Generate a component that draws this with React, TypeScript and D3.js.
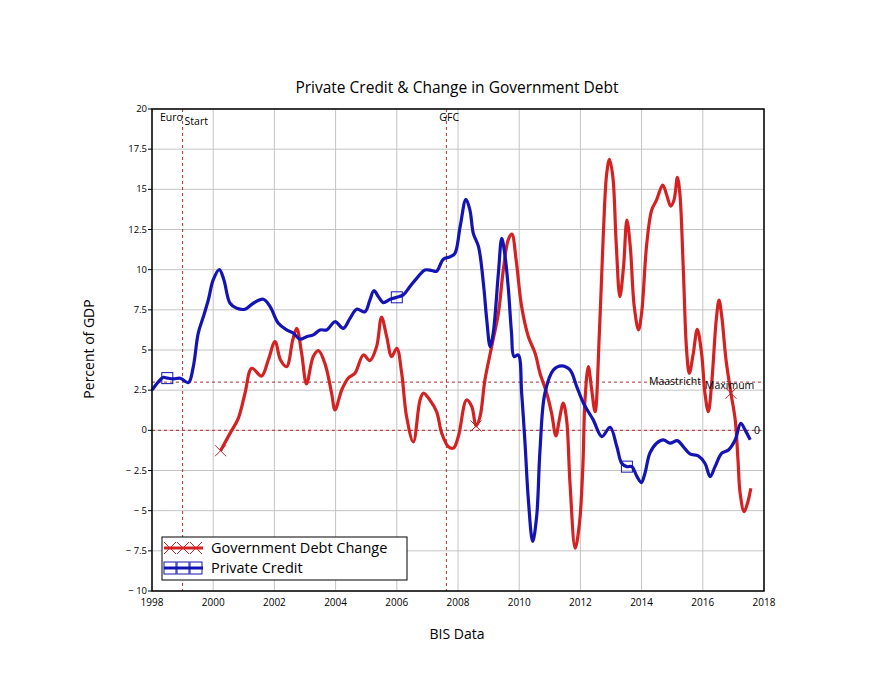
import React, { useEffect, useRef } from "react";
import * as d3 from "d3";

// Private credit (% of GDP), by year
const creditYears = [
  1998.0, 1998.2, 1998.37, 1998.5, 1998.7, 1998.92, 1999.19, 1999.35, 1999.51, 1999.68,
  1999.84, 2000.0, 2000.2, 2000.35, 2000.55, 2000.77, 2001.04, 2001.31, 2001.64, 2001.86,
  2002.13, 2002.4, 2002.62, 2002.84, 2003.05, 2003.27, 2003.49, 2003.71, 2003.98, 2004.25,
  2004.47, 2004.69, 2004.96, 2005.12, 2005.25, 2005.4, 2005.56, 2005.78, 2006.0, 2006.21,
  2006.43, 2006.65, 2006.92, 2007.14, 2007.3, 2007.52, 2007.74, 2007.9, 2008.07, 2008.26,
  2008.39, 2008.5, 2008.67, 2008.83, 2008.94, 2009.05, 2009.15, 2009.32, 2009.43, 2009.54,
  2009.64, 2009.75, 2009.83, 2009.97, 2010.08, 2010.19, 2010.3, 2010.44, 2010.57, 2010.68,
  2010.84, 2011.12, 2011.39, 2011.66, 2011.88, 2012.1, 2012.42, 2012.7, 2012.97, 2013.19,
  2013.35, 2013.52, 2013.68, 2013.85, 2013.99, 2014.11, 2014.27, 2014.49, 2014.71, 2014.93,
  2015.17, 2015.36, 2015.58, 2015.85, 2016.07, 2016.24, 2016.4, 2016.62, 2016.84, 2017.06,
  2017.24, 2017.38, 2017.55,
];
const creditValues = [
  2.5, 3.0, 3.3, 3.25, 3.2, 3.24, 2.97, 3.97, 6.04, 7.08,
  8.11, 9.36, 10.0, 9.36, 7.91, 7.6, 7.54, 7.91, 8.16, 7.7,
  6.66, 6.25, 6.04, 5.67, 5.83, 5.94, 6.25, 6.25, 6.76, 6.35,
  6.97, 7.54, 7.38, 8.11, 8.69, 8.32, 7.95, 8.16, 8.28, 8.43,
  8.95, 9.46, 9.98, 9.95, 9.9, 10.65, 10.8, 11.02, 12.68, 14.38,
  13.71, 12.26, 11.43, 9.15, 6.87, 5.21, 6.04, 9.78, 11.95, 10.81,
  8.94, 6.04, 4.59, 4.69, 2.31, -0.8, -4.33, -6.92, -5.37, -1.22,
  2.31, 3.76, 4.01, 3.76, 2.72, 1.69, 0.65, -0.39, 0.19, -1.01,
  -2.05, -2.26, -2.26, -2.88, -3.25, -2.67, -1.42, -0.8, -0.59, -0.8,
  -0.64, -1.01, -1.47, -1.59, -2.05, -2.88, -2.26, -1.42, -1.22, -0.59,
  0.44, 0.03, -0.59,
];

// Change in government debt (% of GDP), by year
const debtYears = [
  2000.24, 2000.55, 2000.82, 2001.04, 2001.26, 2001.58, 2001.8, 2002.02, 2002.2, 2002.4,
  2002.6, 2002.73, 2002.89, 2003.05, 2003.27, 2003.44, 2003.65, 2003.87, 2003.98, 2004.2,
  2004.41, 2004.63, 2004.91, 2005.12, 2005.34, 2005.5, 2005.67, 2005.83, 2006.0, 2006.16,
  2006.32, 2006.54, 2006.76, 2006.87, 2007.08, 2007.3, 2007.47, 2007.68, 2007.85, 2008.01,
  2008.28, 2008.45, 2008.59, 2008.72, 2008.88, 2009.1, 2009.32, 2009.48, 2009.64, 2009.76,
  2009.9, 2010.08, 2010.3, 2010.52, 2010.68, 2010.9, 2011.06, 2011.2, 2011.31, 2011.44,
  2011.55, 2011.66, 2011.83, 2011.97, 2012.08, 2012.15, 2012.26, 2012.37, 2012.48, 2012.62,
  2012.75, 2012.86, 2012.95, 2013.06, 2013.17, 2013.29, 2013.41, 2013.52, 2013.63, 2013.76,
  2013.9, 2014.0, 2014.17, 2014.33, 2014.49, 2014.69, 2014.82, 2014.95, 2015.06, 2015.17,
  2015.25, 2015.36, 2015.47, 2015.56, 2015.69, 2015.82, 2015.96, 2016.07, 2016.18, 2016.29,
  2016.44, 2016.53, 2016.62, 2016.76, 2016.92, 2017.06, 2017.15, 2017.22, 2017.35, 2017.46,
  2017.57,
];
const debtValues = [
  -1.27, -0.19, 0.75, 2.31, 3.86, 3.38, 4.38, 5.52, 4.38, 3.96,
  5.63, 6.35, 4.8, 2.89, 4.59, 4.96, 4.17, 2.31, 1.27, 2.51,
  3.24, 3.55, 4.69, 4.34, 5.21, 7.04, 5.83, 4.59, 5.11, 3.55,
  0.85, -0.72, 1.89, 2.31, 1.89, 1.16, -0.19, -1.01, -1.11, -0.39,
  1.89, 1.48, 0.27, 0.85, 3.14, 5.21, 7.29, 9.98, 11.85, 12.22,
  10.6, 7.7, 5.83, 4.8, 3.55, 2.31, 1.06, -0.35, 0.65, 1.69,
  0.65, -3.29, -7.34, -5.78, -2.26, 1.89, 3.96, 2.51, 1.16, 6.04,
  12.26, 15.99, 16.87, 15.79, 11.64, 8.32, 10.19, 13.09, 11.43, 7.7,
  6.25, 7.29, 11.64, 13.71, 14.34, 15.27, 14.65, 13.96, 14.34, 15.75,
  14.75, 10.19, 5.0, 3.55, 4.8, 6.29, 4.8, 2.31, 1.16, 2.93,
  6.87, 8.11, 7.08, 4.38, 2.31, 0.65, -1.84, -3.91, -5.06, -4.54,
  -3.6,
];

const creditMarkerYears = [1998.5, 2006.0, 2013.52];
const debtMarkerYears = [2000.24, 2008.59, 2016.92];

const yTicks = [-10, -7.5, -5, -2.5, 0, 2.5, 5, 7.5, 10, 12.5, 15, 17.5, 20];
const xTicks = [1998, 2000, 2002, 2004, 2006, 2008, 2010, 2012, 2014, 2016, 2018];

// reference lines
const eventYears = [1999.0, 2007.62];
const levelLines = [3, 0];

const RED = "#d42222";
const BLUE = "#1414b4";
const REFLINE = "#a83232";
const FONT = "'Open Sans', 'DejaVu Sans', sans-serif";

function App() {
  const ref = useRef<SVGSVGElement>(null);

  useEffect(() => {
    const svg = d3.select(ref.current);
    svg.selectAll("*").remove();

    const x = d3.scaleLinear().domain([1998, 2018]).range([152, 764]);
    const y = d3.scaleLinear().domain([-10, 20]).range([591, 109]);

    svg.append("rect").attr("width", 884).attr("height", 688).attr("fill", "#fff");

    // grid
    const grid = svg.append("g").attr("stroke", "#c4c4c4").attr("stroke-width", 1);
    grid
      .selectAll("line.h")
      .data(yTicks)
      .join("line")
      .attr("x1", x(1998))
      .attr("x2", x(2018))
      .attr("y1", (d) => y(d))
      .attr("y2", (d) => y(d));
    grid
      .selectAll("line.v")
      .data(xTicks)
      .join("line")
      .attr("class", "v")
      .attr("y1", y(-10))
      .attr("y2", y(20))
      .attr("x1", (d) => x(d))
      .attr("x2", (d) => x(d));

    // dashed reference lines
    const refs = svg
      .append("g")
      .attr("stroke", REFLINE)
      .attr("stroke-width", 1)
      .attr("stroke-dasharray", "3,3");
    refs
      .selectAll("line.e")
      .data(eventYears)
      .join("line")
      .attr("x1", (d) => x(d))
      .attr("x2", (d) => x(d))
      .attr("y1", y(20))
      .attr("y2", y(-10));
    refs
      .selectAll("line.l")
      .data(levelLines)
      .join("line")
      .attr("class", "l")
      .attr("x1", x(1998))
      .attr("x2", x(2018))
      .attr("y1", (d) => y(d))
      .attr("y2", (d) => y(d));

    // series
    const line = d3
      .line<[number, number]>()
      .x((d) => x(d[0]))
      .y((d) => y(d[1]))
      .curve(d3.curveCatmullRom.alpha(0.5));

    const debt: [number, number][] = debtYears.map((t, i) => [t, debtValues[i]]);
    const credit: [number, number][] = creditYears.map((t, i) => [t, creditValues[i]]);

    svg
      .append("path")
      .attr("d", line(debt))
      .attr("fill", "none")
      .attr("stroke", RED)
      .attr("stroke-width", 3.2)
      .attr("stroke-linejoin", "round");
    svg
      .append("path")
      .attr("d", line(credit))
      .attr("fill", "none")
      .attr("stroke", BLUE)
      .attr("stroke-width", 3.2)
      .attr("stroke-linejoin", "round");

    const nearest = (data: [number, number][], t: number) =>
      data.reduce((a, b) => (Math.abs(b[0] - t) < Math.abs(a[0] - t) ? b : a));

    const cross = (g: any, cx: number, cy: number, s: number, color: string) => {
      g.append("path")
        .attr("d", `M${cx - s},${cy - s}L${cx + s},${cy + s}M${cx - s},${cy + s}L${cx + s},${cy - s}`)
        .attr("stroke", color)
        .attr("stroke-width", 1)
        .attr("fill", "none");
    };
    const square = (g: any, cx: number, cy: number, s: number, color: string) => {
      g.append("rect")
        .attr("x", cx - s)
        .attr("y", cy - s)
        .attr("width", 2 * s)
        .attr("height", 2 * s)
        .attr("stroke", color)
        .attr("stroke-width", 1)
        .attr("fill", "none");
    };

    const marks = svg.append("g");
    debtMarkerYears.forEach((t) => {
      const p = nearest(debt, t);
      cross(marks, x(p[0]), y(p[1]), 5.5, "#b02828");
    });
    creditMarkerYears.forEach((t) => {
      const p = nearest(credit, t);
      square(marks, x(p[0]), y(p[1]), 5.5, BLUE);
    });

    // frame
    svg
      .append("rect")
      .attr("x", x(1998))
      .attr("y", y(20))
      .attr("width", x(2018) - x(1998))
      .attr("height", y(-10) - y(20))
      .attr("fill", "none")
      .attr("stroke", "#000")
      .attr("stroke-width", 1.5);

    // y axis ticks and labels
    const yAxis = svg.append("g");
    yAxis
      .selectAll("line")
      .data(yTicks)
      .join("line")
      .attr("x1", x(1998) - 4)
      .attr("x2", x(1998))
      .attr("y1", (d) => y(d))
      .attr("y2", (d) => y(d))
      .attr("stroke", "#000");
    yAxis
      .selectAll("text")
      .data(yTicks)
      .join("text")
      .attr("x", x(1998) - 5)
      .attr("y", (d) => y(d) + 3)
      .attr("text-anchor", "end")
      .attr("font-family", FONT)
      .attr("font-size", 9.5)
      .text((d) => (d < 0 ? `\u2212 ${Math.abs(d)}` : `${d}`));

    // x axis labels
    svg
      .append("g")
      .selectAll("text")
      .data(xTicks)
      .join("text")
      .attr("x", (d) => x(d))
      .attr("y", y(-10) + 15)
      .attr("text-anchor", "middle")
      .attr("font-family", FONT)
      .attr("font-size", 10)
      .text((d) => d);

    // titles
    svg
      .append("text")
      .attr("x", 457)
      .attr("y", 93)
      .attr("text-anchor", "middle")
      .attr("font-family", FONT)
      .attr("font-size", 15.5)
      .text("Private Credit & Change in Government Debt");
    svg
      .append("text")
      .attr("x", 457)
      .attr("y", 639)
      .attr("text-anchor", "middle")
      .attr("font-family", FONT)
      .attr("font-size", 14)
      .text("BIS Data");
    svg
      .append("text")
      .attr("transform", `translate(94, 349) rotate(-90)`)
      .attr("text-anchor", "middle")
      .attr("font-family", FONT)
      .attr("font-size", 14)
      .text("Percent of GDP");

    // annotations
    const notes: [string, number, number, string?][] = [
      ["Euro", x(1998) + 8, y(20) + 12],
      ["Start", x(eventYears[0]) + 2, y(20) + 16],
      ["GFC", x(eventYears[1]) - 7, y(20) + 12],
      ["Maastricht", 649, y(levelLines[0]) + 3],
      ["Maximum", 705, y(levelLines[0]) + 7],
      ["0", 754, y(levelLines[1]) + 4],
    ];
    svg
      .append("g")
      .selectAll("text")
      .data(notes)
      .join("text")
      .attr("x", (d) => d[1])
      .attr("y", (d) => d[2])
      .attr("font-family", FONT)
      .attr("font-size", 10.5)
      .text((d) => d[0]);

    // legend
    const lg = svg.append("g").attr("transform", "translate(162, 537)");
    lg.append("rect")
      .attr("width", 245)
      .attr("height", 43)
      .attr("fill", "#fff")
      .attr("stroke", "#000")
      .attr("stroke-width", 1);
    const items = [
      { label: "Government Debt Change", color: RED, mark: "cross" },
      { label: "Private Credit", color: BLUE, mark: "square" },
    ];
    items.forEach((it, i) => {
      const cy = 11 + i * 20;
      lg.append("line")
        .attr("x1", 2)
        .attr("x2", 41)
        .attr("y1", cy)
        .attr("y2", cy)
        .attr("stroke", it.color)
        .attr("stroke-width", 3);
      [8, 21, 34].forEach((cx) => {
        if (it.mark === "cross") cross(lg, cx, cy, 6, RED);
        else square(lg, cx, cy, 6, BLUE);
      });
      lg.append("text")
        .attr("x", 49)
        .attr("y", cy + 5)
        .attr("font-family", FONT)
        .attr("font-size", 14.5)
        .text(it.label);
    });
  }, []);

  return (
    <div style={{ position: "absolute", left: 0, top: 0 }}>
      <svg ref={ref} width={884} height={688} style={{ display: "block" }} />
    </div>
  );
}

export default App;
